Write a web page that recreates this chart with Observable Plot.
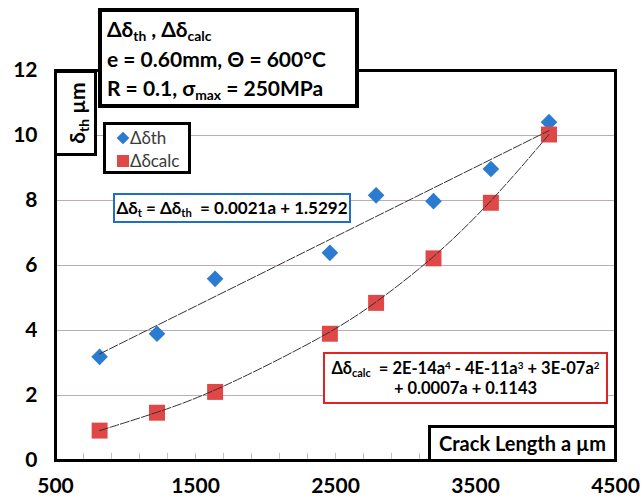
<!DOCTYPE html>
<html><head><meta charset="utf-8">
<script src="https://cdn.jsdelivr.net/npm/d3@7"></script>
<script src="https://cdn.jsdelivr.net/npm/@observablehq/plot@0.6"></script>
<style>
body{margin:0;background:#fff;}
#wrap{position:relative;width:642px;height:500px;font-family:Lato,"Open Sans",sans-serif;}
#wrap > svg{position:absolute;left:0;top:0;}
.box{position:absolute;background:#fff;box-sizing:border-box;color:#000;font-weight:bold;white-space:nowrap;}
.lg{position:absolute;left:103px;top:122px;width:88px;height:52px;box-sizing:border-box;font-size:17px;font-weight:normal;color:#3a3a3a;line-height:23px;padding:4px 0 0 13px;white-space:nowrap;}
sub{font-size:0.66em;vertical-align:-0.3em;line-height:0}
sup{font-size:0.6em;vertical-align:0.55em;line-height:0}
.mk{display:inline-block;vertical-align:-1px;}
</style></head><body><div id="wrap"></div>
<script>
// data
const crackLength = [815, 1225, 1640, 2460, 2790, 3200, 3610, 4025];
const deltaTh     = [3.19, 3.90, 5.59, 6.39, 8.16, 7.98, 8.97, 10.41];
const deltaCalc   = [0.92, 1.47, 2.11, 3.90, 4.85, 6.22, 7.93, 10.03];
const xTicks = [500, 1500, 2500, 3500, 4500];
const xMinorTicks = [700, 900, 1100, 1300, 1500, 1700, 1900, 2100, 2300, 2500, 2700, 2900, 3100, 3300, 3500, 3700, 3900];
const yTicks = [0, 2, 4, 6, 8, 10, 12];
const yGrid = [2, 4, 6, 8, 10];
const seriesNames = ["Δδth", "Δδcalc"];
const blue = "#2b7bd0", red = "#e04848";

const th = crackLength.map((a, i) => ({a, v: deltaTh[i]}));
const calc = crackLength.map((a, i) => ({a, v: deltaCalc[i]}));

const chart = Plot.plot({
  width: 642, height: 500,
  marginLeft: 55, marginRight: 27, marginTop: 70, marginBottom: 40,
  style: {fontFamily: "Lato, 'Open Sans', sans-serif", fontSize: "21px", fontWeight: "bold", color: "#000", background: "transparent"},
  x: {domain: [500, 4500]},
  y: {domain: [0, 12]},
  marks: [
    Plot.ruleY(yGrid, {stroke: "#bcaeae", strokeWidth: 1}),
    Plot.ruleX(xMinorTicks, {y1: 0, y2: 0.22, stroke: "#c8c0c0", strokeWidth: 1}),
    Plot.axisY({ticks: yTicks, tickSize: 0, tickPadding: 18, label: null, fill: "#000"}),
    Plot.axisX({ticks: xTicks, tickSize: 0, tickPadding: 18, label: null, fill: "#000", tickFormat: d => String(d)}),
    Plot.dot(th, {x: "a", y: "v", symbol: "diamond2", r: 7.5, fill: blue, stroke: "none"}),
    Plot.dot(calc, {x: "a", y: "v", symbol: "square", r: 9, fill: red, stroke: "none"}),
    Plot.linearRegressionY(th, {x: "a", y: "v", ci: 0, stroke: "#333", strokeWidth: 1, strokeDasharray: "9 2"}),
    Plot.line(calc, {x: "a", y: "v", curve: "basis", stroke: "#333", strokeWidth: 1, strokeDasharray: "9 2"}),
    Plot.frame({stroke: "#000", strokeWidth: 3})
  ]
});
const wrap = document.getElementById("wrap");
wrap.appendChild(chart);
// legend frame drawn inside the chart svg
d3.select(chart).append("rect")
  .attr("x", 104.5).attr("y", 123.5).attr("width", 85).attr("height", 49)
  .attr("fill", "#fff").attr("stroke", "#000").attr("stroke-width", 3);

function box(html, css, cls) {
  const d = document.createElement("div");
  d.className = cls || "box";
  d.innerHTML = html;
  Object.assign(d.style, css);
  wrap.appendChild(d);
  return d;
}
// title box
box(`<div>Δδ<sub>th</sub> , Δδ<sub>calc</sub></div><div>e = 0.60mm, Θ = 600°C</div><div>R = 0.1, σ<sub>max</sub> = 250MPa</div>`,
  {left: "98px", top: "8px", width: "261px", height: "100px", border: "4px solid #000", fontSize: "21px", lineHeight: "29.5px", padding: "2px 0 0 5px"});
// y label box
box(`<span style="position:absolute;left:50%;top:50%;transform:translate(-50%,-50%) rotate(-90deg);">δ<sub>th</sub> µm</span>`,
  {left: "54px", top: "70px", width: "43px", height: "86px", border: "3px solid #000", fontSize: "21px"});
// legend
const mk = (c, shape) => shape === "d"
  ? `<svg class="mk" width="14" height="14"><rect x="2.5" y="2.5" width="9" height="9" transform="rotate(45 7 7)" fill="${c}"/></svg>`
  : `<svg class="mk" width="14" height="14"><rect x="1" y="1" width="12" height="12" fill="${c}"/></svg>`;
box(`<div>${mk(blue, "d")}${seriesNames[0]}</div><div>${mk(red, "s")}${seriesNames[1]}</div>`, {}, "lg");
// blue equation
box(`Δδ<sub>t</sub> = Δδ<sub>th</sub>&nbsp; = 0.0021a + 1.5292`,
  {left: "113px", top: "193px", width: "238px", height: "30px", border: "2px solid #1f6ec8", fontSize: "17px", lineHeight: "25px", textAlign: "center"});
// red equation
box(`<div>Δδ<sub>calc</sub>&nbsp; = 2E-14a<sup>4</sup> - 4E-11a<sup>3</sup> + 3E-07a<sup>2</sup></div><div>+ 0.0007a + 0.1143</div>`,
  {left: "323px", top: "352px", width: "285px", height: "52px", border: "2px solid #e02424", fontSize: "16.5px", lineHeight: "20px", textAlign: "center", paddingTop: "4px"});
// x label box
box(`Crack Length a µm`,
  {left: "428px", top: "425px", width: "189px", height: "37px", border: "3px solid #000", fontSize: "20px", lineHeight: "30px", textAlign: "center"});
</script></body></html>
